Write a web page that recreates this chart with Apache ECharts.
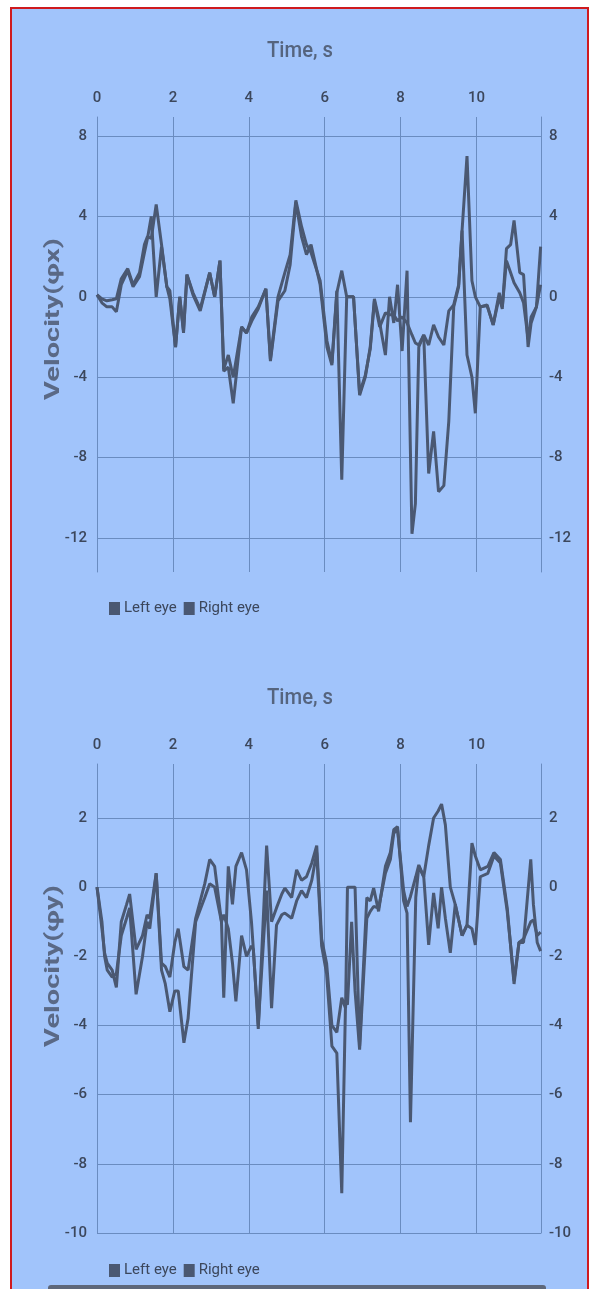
<!DOCTYPE html>
<html>
<head>
<meta charset="utf-8">
<script src="https://cdn.jsdelivr.net/npm/echarts@6/dist/echarts.min.js"></script>
<style>
html,body{margin:0;padding:0;background:#ffffff;width:589px;height:1289px;overflow:hidden;}
#frame{position:absolute;left:10px;top:7px;width:575px;height:1290px;border:2px solid #cf1a1e;background:#a1c4fb;}
#chart{position:absolute;left:0;top:0;width:589px;height:1289px;}
</style>
</head>
<body>
<div id="frame"></div>
<div id="chart"></div>
<script>
// ---- data ----
const xTicks = [0, 2, 4, 6, 8, 10];
const topYTicks = [-12, -8, -4, 0, 4, 8];
const bottomYTicks = [-10, -8, -6, -4, -2, 0, 2];
const seriesNames = ['Left eye', 'Right eye'];

const topTime = [0.00,0.13,0.26,0.40,0.51,0.64,0.81,0.95,1.12,1.25,1.33,1.43,1.56,1.70,1.84,1.92,2.07,2.18,2.28,2.37,2.53,2.72,2.97,3.10,3.24,3.34,3.46,3.59,3.81,3.94,4.08,4.25,4.45,4.57,4.77,4.95,5.09,5.24,5.39,5.52,5.64,5.88,6.06,6.19,6.32,6.45,6.58,6.76,6.92,7.07,7.20,7.31,7.45,7.60,7.71,7.82,7.92,8.04,8.17,8.30,8.39,8.48,8.61,8.74,8.87,9.00,9.14,9.27,9.40,9.53,9.62,9.75,9.88,9.97,10.10,10.28,10.44,10.60,10.68,10.79,10.90,10.99,11.14,11.24,11.36,11.44,11.58,11.69];
const topLeft = [0.1,-0.3,-0.5,-0.5,-0.75,0.6,1.3,0.5,1.0,2.2,2.9,4.0,0.0,2.5,0.5,0.3,-2.5,0.0,-1.8,1.1,0.1,-0.7,1.2,0.0,1.8,-3.7,-3.5,-5.3,-1.5,-1.8,-1.2,-0.6,0.4,-3.2,-0.2,0.3,1.6,4.7,3.0,2.1,2.6,0.6,-2.5,-3.4,0.2,1.3,0.0,0.0,-4.9,-4.0,-2.5,-0.1,-1.3,-2.9,0.0,-1.3,0.6,-2.7,1.3,-11.8,-10.3,-2.5,-1.9,-2.4,-1.4,-2.0,-2.4,-0.7,-0.4,0.6,3.3,7.0,0.8,0.0,-0.5,-0.45,-1.4,0.0,-0.6,2.4,2.6,3.8,1.2,1.1,-2.5,-1.3,-0.5,2.5];
const topRight = [0.1,-0.1,-0.2,-0.15,-0.1,0.9,1.4,0.6,1.2,2.6,3.0,2.9,4.6,2.6,0.5,-0.1,-2.5,0.0,-1.7,1.1,0.2,-0.6,1.2,0.0,1.8,-3.6,-2.9,-4.0,-1.5,-1.8,-1.0,-0.5,0.4,-3.1,0.0,1.2,2.1,4.8,3.5,2.6,2.2,0.8,-2.2,-3.3,0.3,-9.1,0.0,0.0,-4.8,-3.9,-2.6,-0.2,-1.5,-0.8,-0.9,-0.9,-1.2,-1.0,-1.3,-1.9,-2.3,-2.4,-1.9,-8.8,-6.7,-9.7,-9.4,-6.2,-0.5,0.5,3.3,-2.9,-4.0,-5.8,-0.5,-0.4,-1.4,0.2,-0.5,1.8,1.2,0.7,0.2,-0.3,-2.1,-1.0,-0.5,0.6];

const bottomTime = [0.00,0.13,0.20,0.27,0.40,0.51,0.64,0.78,0.86,1.03,1.20,1.32,1.39,1.56,1.70,1.80,1.92,2.05,2.14,2.29,2.40,2.60,2.84,2.97,3.10,3.28,3.34,3.46,3.57,3.66,3.81,3.94,4.07,4.12,4.25,4.47,4.60,4.73,4.87,4.95,5.13,5.26,5.39,5.52,5.66,5.79,5.92,6.05,6.19,6.32,6.45,6.55,6.60,6.71,6.80,6.92,7.11,7.20,7.29,7.42,7.60,7.73,7.82,7.92,8.08,8.17,8.26,8.40,8.48,8.61,8.74,8.87,8.99,9.08,9.18,9.31,9.44,9.62,9.75,9.88,9.97,10.10,10.30,10.46,10.63,10.81,10.99,11.12,11.24,11.43,11.50,11.60,11.69];
const bottomLeft = [0.0,-1.2,-1.9,-2.2,-2.4,-2.9,-1.0,-0.5,-0.2,-1.8,-1.4,-0.8,-0.9,0.4,-2.2,-2.3,-2.6,-1.6,-1.2,-2.3,-2.4,-0.9,0.1,0.8,0.6,-1.0,-3.2,0.6,-0.5,0.6,1.0,0.5,-1.0,-1.8,-4.1,1.2,-1.0,-0.6,-0.2,-0.03,-0.3,0.5,0.2,0.3,0.7,1.2,-1.5,-2.2,-4.0,-4.2,-3.2,-3.5,0.0,0.0,0.0,-4.6,-0.3,-0.4,-0.03,-0.7,0.6,1.0,1.66,1.75,-0.4,-0.75,-6.8,-0.3,0.6,0.3,1.2,2.0,2.2,2.4,1.8,0.0,-0.5,-1.4,-1.1,1.27,0.9,0.5,0.6,1.0,0.8,-0.6,-2.8,-1.6,-1.6,0.8,-0.5,-1.6,-1.85];
const bottomRight = [0.0,-1.0,-2.0,-2.4,-2.6,-2.5,-1.4,-0.9,-0.6,-3.1,-2.0,-1.0,-1.2,0.4,-2.4,-2.8,-3.6,-3.0,-3.0,-4.5,-3.8,-1.0,-0.3,0.1,0.0,-1.0,-0.8,-1.2,-2.2,-3.3,-1.4,-2.0,-1.7,-1.8,-4.0,-0.1,-3.5,-1.1,-0.8,-0.75,-0.9,-0.4,-0.1,-0.3,0.2,1.0,-1.7,-2.5,-4.6,-4.8,-8.85,-3.3,-3.4,-1.0,-3.0,-4.7,-0.9,-0.7,-0.56,-0.6,0.4,0.8,1.56,1.66,-0.1,-0.56,-0.27,0.3,0.64,0.3,-1.67,-0.17,-1.19,0.0,-0.9,-1.9,-0.5,-1.4,-1.1,-1.2,-1.67,0.3,0.4,0.9,0.7,-0.7,-2.7,-1.6,-1.5,-1.0,-0.95,-1.4,-1.3];

// ---- styling ----
const lineColor = '#4a5872';
const gridColor = '#6a8cc0';
const textColor = '#3c475c';
const font = 'Roboto';

function pairs(t, v) { return t.map((x, i) => [x, v[i]]); }

function xAxisFor(gi) {
  return {
    type: 'value', gridIndex: gi, position: 'top', min: 0, max: 11.7,
    axisLine: { show: true, lineStyle: { color: gridColor, width: 1 } },
    axisTick: { show: false, customValues: xTicks },
    axisLabel: { customValues: xTicks, color: textColor, fontSize: 15, fontWeight: 500, fontFamily: font, margin: 11 },
    splitLine: { show: true, lineStyle: { color: gridColor, width: 1 } }
  };
}
function yAxisFor(gi, min, max, ticks, pos) {
  const left = pos === 'left';
  return {
    type: 'value', gridIndex: gi, position: pos, min: min, max: max,
    axisLine: { show: true, lineStyle: { color: gridColor, width: 1 } },
    axisTick: { show: false, customValues: ticks },
    axisLabel: { show: true, customValues: ticks, color: textColor, fontSize: 15, fontWeight: 500, fontFamily: font, margin: left ? 10 : 8 },
    splitLine: { show: left, lineStyle: { color: gridColor, width: 1 } }
  };
}
function lineSeries(name, xi, yi, t, v) {
  return {
    name: name, type: 'line', xAxisIndex: xi, yAxisIndex: yi,
    data: pairs(t, v), showSymbol: false, symbol: 'none',
    lineStyle: { color: lineColor, width: 3 }, itemStyle: { color: lineColor },
    animation: false, z: 3
  };
}
function legendAt(top) {
  return { data: seriesNames, left: 104, top: top, icon: 'rect', itemWidth: 11, itemHeight: 13, itemGap: 7,
    textStyle: { color: textColor, fontSize: 15, fontFamily: font, padding: [0, 0, 0, -1] } };
}
function yTitle(text, cy) {
  return { type: 'text', x: 54, y: cy, rotation: Math.PI / 2, scaleY: 0.7,
    style: { text: text, fill: '#5a6986', font: 'bold 29px Roboto', align: 'center', verticalAlign: 'middle' } };
}
function xTitle(cy) {
  return { type: 'text', x: 300, y: cy, scaleX: 0.92,
    style: { text: 'Time, s', fill: '#55647e', font: '500 22px Roboto', align: 'center', verticalAlign: 'middle' } };
}

const chart = echarts.init(document.getElementById('chart'), null, { renderer: 'canvas' });
chart.setOption({
  backgroundColor: 'transparent',
  animation: false,
  grid: [
    { left: 97, width: 444, top: 117, height: 455 },
    { left: 97, width: 444, top: 764, height: 469 }
  ],
  xAxis: [xAxisFor(0), xAxisFor(1)],
  yAxis: [
    yAxisFor(0, -13.7, 8.95, topYTicks, 'left'),
    yAxisFor(0, -13.7, 8.95, topYTicks, 'right'),
    yAxisFor(1, -10, 3.56, bottomYTicks, 'left'),
    yAxisFor(1, -10, 3.56, bottomYTicks, 'right')
  ],
  legend: [legendAt(596), legendAt(1258)],
  graphic: [
    xTitle(51),
    xTitle(698),
    yTitle('Velocity(φx)', 319),
    yTitle('Velocity(φy)', 966),
    { type: 'rect', shape: { x: 48, y: 1285, width: 498, height: 8, r: 3 }, style: { fill: '#5d677a' } }
  ],
  series: [
    lineSeries(seriesNames[0], 0, 0, topTime, topLeft),
    lineSeries(seriesNames[1], 0, 0, topTime, topRight),
    lineSeries(seriesNames[0], 1, 2, bottomTime, bottomLeft),
    lineSeries(seriesNames[1], 1, 2, bottomTime, bottomRight)
  ]
});
</script>
</body>
</html>
